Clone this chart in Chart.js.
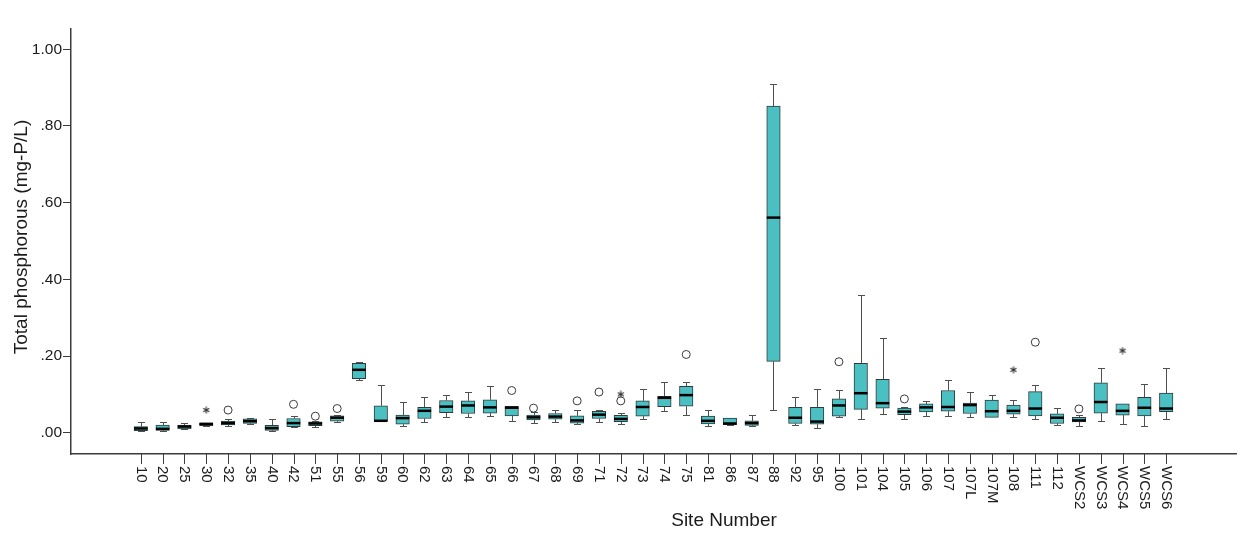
<!DOCTYPE html>
<html>
<head>
<meta charset="utf-8">
<title>Total phosphorous by site</title>
<script src="https://cdn.jsdelivr.net/npm/chart.js@4"></script>
<style>
  html, body { margin: 0; padding: 0; background: #ffffff; }
  canvas { display: block; }
</style>
</head>
<body>
<canvas id="chart" width="1241" height="539"></canvas>
<script>
// Sampling sites along the x axis
const sites = ['10','20','25','30','32','35','40','42','51','55','56','59','60','62','63','64','65','66','67','68',
  '69','71','72','73','74','75','81','86','87','88','92','95','100','101','104','105','106','107','107L','107M',
  '108','111','112','WCS2','WCS3','WCS4','WCS5','WCS6'];

// Box-plot summaries per site (mg-P/L)
const whiskerLow = [0.004,0.005,0.009,0.017,0.018,0.022,0.004,0.014,0.016,0.027,0.137,0.031,0.017,0.027,0.040,0.042,0.044,0.031,0.026,0.029,
  0.023,0.028,0.023,0.036,0.057,0.045,0.017,0.019,0.017,0.059,0.020,0.012,0.041,0.036,0.049,0.037,0.043,0.044,0.042,0.040,
  0.042,0.035,0.020,0.017,0.031,0.023,0.017,0.036];
const q1 = [0.005,0.006,0.010,0.018,0.020,0.024,0.006,0.016,0.018,0.030,0.141,0.031,0.022,0.037,0.052,0.050,0.051,0.044,0.033,0.035,
  0.025,0.037,0.029,0.043,0.068,0.069,0.023,0.021,0.019,0.186,0.024,0.022,0.043,0.061,0.064,0.047,0.054,0.056,0.050,0.040,
  0.048,0.044,0.024,0.028,0.051,0.046,0.044,0.055];
const median = [0.011,0.010,0.016,0.023,0.025,0.030,0.012,0.025,0.024,0.039,0.164,0.031,0.038,0.057,0.068,0.071,0.066,0.065,0.040,0.042,
  0.032,0.047,0.036,0.067,0.091,0.098,0.031,0.024,0.025,0.561,0.039,0.029,0.071,0.103,0.077,0.055,0.066,0.067,0.072,0.056,
  0.057,0.063,0.039,0.032,0.080,0.057,0.065,0.063];
const q3 = [0.016,0.020,0.020,0.025,0.030,0.036,0.019,0.037,0.028,0.044,0.181,0.070,0.046,0.066,0.084,0.083,0.086,0.069,0.046,0.050,
  0.044,0.056,0.045,0.083,0.095,0.121,0.043,0.038,0.031,0.852,0.066,0.066,0.088,0.181,0.139,0.064,0.075,0.110,0.077,0.085,
  0.072,0.107,0.049,0.040,0.130,0.075,0.092,0.103];
const whiskerHigh = [0.029,0.027,0.024,0.026,0.035,0.038,0.035,0.044,0.030,0.046,0.184,0.125,0.081,0.094,0.098,0.106,0.123,0.069,0.055,0.059,
  0.059,0.059,0.051,0.114,0.131,0.133,0.059,0.039,0.046,0.909,0.092,0.114,0.112,0.359,0.248,0.068,0.083,0.138,0.105,0.098,
  0.086,0.125,0.064,0.045,0.168,0.075,0.126,0.168];

// Outliers (circles) and extreme values (stars)
const outlierSites = ['32','42','51','55','66','67','69','71','72','75','100','105','111','WCS2'];
const outlierValues = [0.059,0.074,0.043,0.063,0.110,0.064,0.083,0.106,0.083,0.204,0.185,0.088,0.236,0.062];
const extremeSites = ['30','72','108','WCS4'];
const extremeValues = [0.059,0.100,0.164,0.214];

// Value axis ticks
const yTickValues = [0, 0.2, 0.4, 0.6, 0.8, 1.0];
const yTickLabels = ['.00', '.20', '.40', '.60', '.80', '1.00'];

const FONT = '"Liberation Sans", Arial, sans-serif';
const INK = '#1b1b1b';
const AXIS = '#3c3c3c';
const BOX_FILL = '#4bc0c3';

const boxData = sites.map((s, i) => ({ x: i, y: [q1[i], q3[i]] }));
const outlierPoints = outlierSites.map((s, k) => ({ x: sites.indexOf(s), y: outlierValues[k] }));
const extremePoints = extremeSites.map((s, k) => ({ x: sites.indexOf(s), y: extremeValues[k] }));

// Six-armed asterisk marker for extreme values
function asteriskMarker(size) {
  const c = document.createElement('canvas');
  c.width = size; c.height = size;
  const g = c.getContext('2d');
  const m = size / 2, r = size / 2 - 0.5;
  g.strokeStyle = '#2e2e2e';
  g.lineWidth = 1.1;
  g.beginPath();
  for (let k = 0; k < 3; k++) {
    const a = Math.PI / 2 + k * Math.PI / 3;
    g.moveTo(m + r * Math.cos(a), m + r * Math.sin(a));
    g.lineTo(m - r * Math.cos(a), m - r * Math.sin(a));
  }
  g.stroke();
  return c;
}

// Whiskers, medians, site tick marks, rotated site labels and axis titles
const boxPlotParts = {
  id: 'boxPlotParts',
  beforeDatasetsDraw(chart) {
    const { ctx, scales: { x, y } } = chart;
    ctx.save();
    ctx.strokeStyle = '#505050';
    ctx.lineWidth = 1;
    sites.forEach((s, i) => {
      const px = Math.round(x.getPixelForValue(i)) + 0.5;
      const capHalf = 3.5;
      [[whiskerLow[i], q1[i]], [whiskerHigh[i], q3[i]]].forEach(([end, edge]) => {
        if (Math.abs(end - edge) < 1e-9) return;
        const ye = Math.round(y.getPixelForValue(end)) + 0.5;
        const yb = y.getPixelForValue(edge);
        ctx.beginPath();
        ctx.moveTo(px, yb);
        ctx.lineTo(px, ye);
        ctx.moveTo(px - capHalf, ye);
        ctx.lineTo(px + capHalf, ye);
        ctx.stroke();
      });
    });
    ctx.restore();
  },
  afterDatasetsDraw(chart) {
    const { ctx, scales: { y } } = chart;
    const meta = chart.getDatasetMeta(0);
    ctx.save();
    ctx.strokeStyle = '#000000';
    ctx.lineWidth = 2.5;
    meta.data.forEach((bar, i) => {
      const { x: bx, width } = bar.getProps(['x', 'width'], true);
      const ym = y.getPixelForValue(median[i]);
      ctx.beginPath();
      ctx.moveTo(bx - width / 2, ym);
      ctx.lineTo(bx + width / 2, ym);
      ctx.stroke();
    });
    ctx.restore();
  },
  afterDraw(chart) {
    const { ctx, scales: { x } } = chart;
    ctx.save();
    // tick marks below the site axis
    ctx.strokeStyle = AXIS;
    ctx.lineWidth = 1;
    ctx.beginPath();
    sites.forEach((s, i) => {
      const px = Math.round(x.getPixelForValue(i)) + 0.5;
      ctx.moveTo(px, x.top);
      ctx.lineTo(px, x.top + 10);
    });
    ctx.stroke();
    ctx.fillStyle = INK;
    // site labels, reading top to bottom
    ctx.font = '15px ' + FONT;
    ctx.textAlign = 'left';
    ctx.textBaseline = 'middle';
    const labelTop = x.top + 12;
    sites.forEach((s, i) => {
      const px = x.getPixelForValue(i);
      ctx.save();
      ctx.translate(px, labelTop);
      ctx.rotate(Math.PI / 2);
      ctx.fillText(s, 0, 0);
      ctx.restore();
    });
    // axis titles
    ctx.font = '19px ' + FONT;
    ctx.textAlign = 'center';
    ctx.textBaseline = 'middle';
    ctx.fillText('Site Number', 724, 521);
    ctx.save();
    ctx.translate(22, 237);
    ctx.rotate(-Math.PI / 2);
    ctx.fillText('Total phosphorous (mg-P/L)', 0, 0);
    ctx.restore();
    ctx.restore();
  }
};

new Chart(document.getElementById('chart'), {
  type: 'bar',
  data: {
    datasets: [
      {
        type: 'bar',
        data: boxData,
        backgroundColor: BOX_FILL,
        borderColor: '#2f3a3a',
        borderWidth: 1,
        borderSkipped: false,
        barThickness: 13.5,
        order: 2
      },
      {
        type: 'scatter',
        data: outlierPoints,
        pointStyle: 'circle',
        pointRadius: 4,
        pointBorderWidth: 1,
        pointBorderColor: '#3a3a3a',
        pointBackgroundColor: 'rgba(255,255,255,0)',
        order: 1
      },
      {
        type: 'scatter',
        data: extremePoints,
        pointStyle: asteriskMarker(8),
        pointRadius: 4,
        order: 1
      }
    ]
  },
  options: {
    responsive: false,
    animation: false,
    devicePixelRatio: 1,
    layout: { padding: { top: 29, left: 0, right: 0, bottom: 0 } },
    plugins: {
      legend: { display: false },
      tooltip: { enabled: false }
    },
    scales: {
      x: {
        type: 'linear',
        min: -3.2,
        max: 50.2,
        offset: false,
        afterBuildTicks: (scale) => { scale.ticks = sites.map((s, i) => ({ value: i })); },
        afterFit: (scale) => { scale.height = 85; },
        ticks: { display: false },
        grid: { display: false },
        border: { display: true, color: AXIS, width: 1.5 }
      },
      y: {
        type: 'linear',
        min: -0.0556,
        max: 1.053,
        afterBuildTicks: (scale) => { scale.ticks = yTickValues.map(v => ({ value: v })); },
        afterFit: (scale) => { scale.width = 71; },
        ticks: {
          padding: 1,
          color: INK,
          font: { family: FONT, size: 15.5 },
          callback: (value, index) => yTickLabels[index]
        },
        grid: { drawOnChartArea: false, drawTicks: true, tickLength: 8, color: AXIS, lineWidth: 1 },
        border: { display: true, color: AXIS, width: 1.5 }
      }
    }
  },
  plugins: [boxPlotParts]
});
</script>
</body>
</html>
